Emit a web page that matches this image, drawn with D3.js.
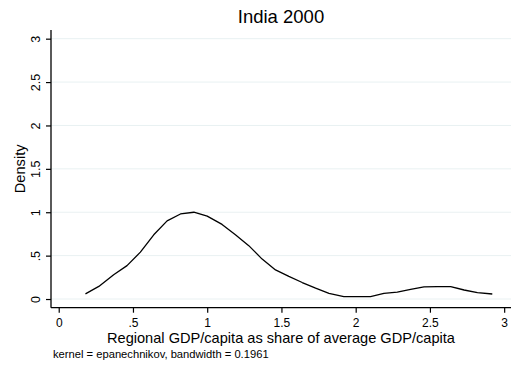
<!DOCTYPE html>
<html>
<head>
<meta charset="utf-8">
<script src="https://cdn.jsdelivr.net/npm/d3@7"></script>
<style>
  html, body { margin: 0; padding: 0; background: #fff; }
  svg { display: block; }
  text { font-family: "Liberation Sans", Arial, Helvetica, sans-serif; fill: #000; }
</style>
</head>
<body>
<svg id="chart" width="513" height="366"></svg>
<script>
// Kernel density estimate of regional GDP per capita (share of national average), India 2000
const gdpShare = [0.18, 0.27, 0.37, 0.46, 0.55, 0.64, 0.73, 0.82, 0.91, 1.00,
                  1.10, 1.19, 1.28, 1.37, 1.46, 1.55, 1.64, 1.73, 1.82, 1.92,
                  2.01, 2.10, 2.19, 2.28, 2.37, 2.46, 2.55, 2.64, 2.73, 2.82, 2.92];
const density  = [0.06, 0.145, 0.28, 0.385, 0.54, 0.74, 0.90, 0.98, 1.00, 0.955,
                  0.86, 0.74, 0.615, 0.46, 0.335, 0.26, 0.19, 0.125, 0.065, 0.027,
                  0.027, 0.027, 0.065, 0.08, 0.11, 0.14, 0.142, 0.142, 0.104, 0.073, 0.058];
const xTicks = [0, 0.5, 1, 1.5, 2, 2.5, 3];
const yTicks = [0, 0.5, 1, 1.5, 2, 2.5, 3];
const fmt = v => (v === 0 ? "0" : String(v).replace(/^0\./, "."));

const titleText = "India 2000";
const xTitle = "Regional GDP/capita as share of average GDP/capita";
const yTitle = "Density";
const noteText = "kernel = epanechnikov, bandwidth = 0.1961";

const svg = d3.select("#chart");
const plotL = 51, plotR = 511, plotT = 30, plotB = 307.7;

const x = d3.scaleLinear().domain([-0.052, 3.046]).range([plotL, plotR]);
const y = d3.scaleLinear().domain([-0.1, 3.1]).range([plotB, plotT]);

// horizontal grid lines
svg.append("g")
  .selectAll("line")
  .data(yTicks)
  .join("line")
  .attr("x1", plotL).attr("x2", plotR)
  .attr("y1", d => y(d)).attr("y2", d => y(d))
  .attr("stroke", "#e9f1f2")
  .attr("stroke-width", 1);

// y axis
const yAxis = svg.append("g")
  .attr("transform", `translate(${plotL},0)`)
  .call(d3.axisLeft(y).tickValues(yTicks).tickFormat(fmt).tickSize(5).tickSizeOuter(0));
yAxis.select(".domain").attr("stroke", "#000").attr("stroke-width", 1.3)
  .attr("d", `M0,${plotT}V${plotB}`);
yAxis.selectAll(".tick line").attr("stroke", "#000").attr("stroke-width", 1.2);
yAxis.selectAll(".tick text")
  .attr("font-size", 12.5)
  .attr("font-family", "Liberation Sans, Arial, sans-serif")
  .attr("text-anchor", "middle")
  .attr("x", null).attr("dy", null)
  .attr("transform", "translate(-11,0) rotate(-90)")
  .attr("y", 0);

// x axis
const xAxis = svg.append("g")
  .attr("transform", `translate(0,${plotB})`)
  .call(d3.axisBottom(x).tickValues(xTicks).tickFormat(fmt).tickSize(5).tickSizeOuter(0));
xAxis.select(".domain").attr("stroke", "#000").attr("stroke-width", 1.3)
  .attr("d", `M${plotL},0H${plotR}`);
xAxis.selectAll(".tick line").attr("stroke", "#000").attr("stroke-width", 1.2);
xAxis.selectAll(".tick text")
  .attr("font-size", 12)
  .attr("font-family", "Liberation Sans, Arial, sans-serif")
  .attr("y", 19).attr("dy", null);

// density curve
const line = d3.line().x((d, i) => x(gdpShare[i])).y(d => y(d));
svg.append("path")
  .attr("d", line(density))
  .attr("fill", "none")
  .attr("stroke", "#000")
  .attr("stroke-width", 1.3)
  .attr("stroke-linejoin", "round");

// titles
svg.append("text")
  .attr("x", (plotL + plotR) / 2).attr("y", 23)
  .attr("text-anchor", "middle")
  .attr("font-size", 18.5)
  .text(titleText);

svg.append("text")
  .attr("x", (plotL + plotR) / 2).attr("y", 342.5)
  .attr("text-anchor", "middle")
  .attr("font-size", 14.6)
  .text(xTitle);

svg.append("text")
  .attr("transform", `translate(25,${(plotT + plotB) / 2}) rotate(-90)`)
  .attr("text-anchor", "middle")
  .attr("font-size", 14.6)
  .text(yTitle);

svg.append("text")
  .attr("x", 53).attr("y", 357.5)
  .attr("font-size", 11.2)
  .text(noteText);
</script>
</body>
</html>
